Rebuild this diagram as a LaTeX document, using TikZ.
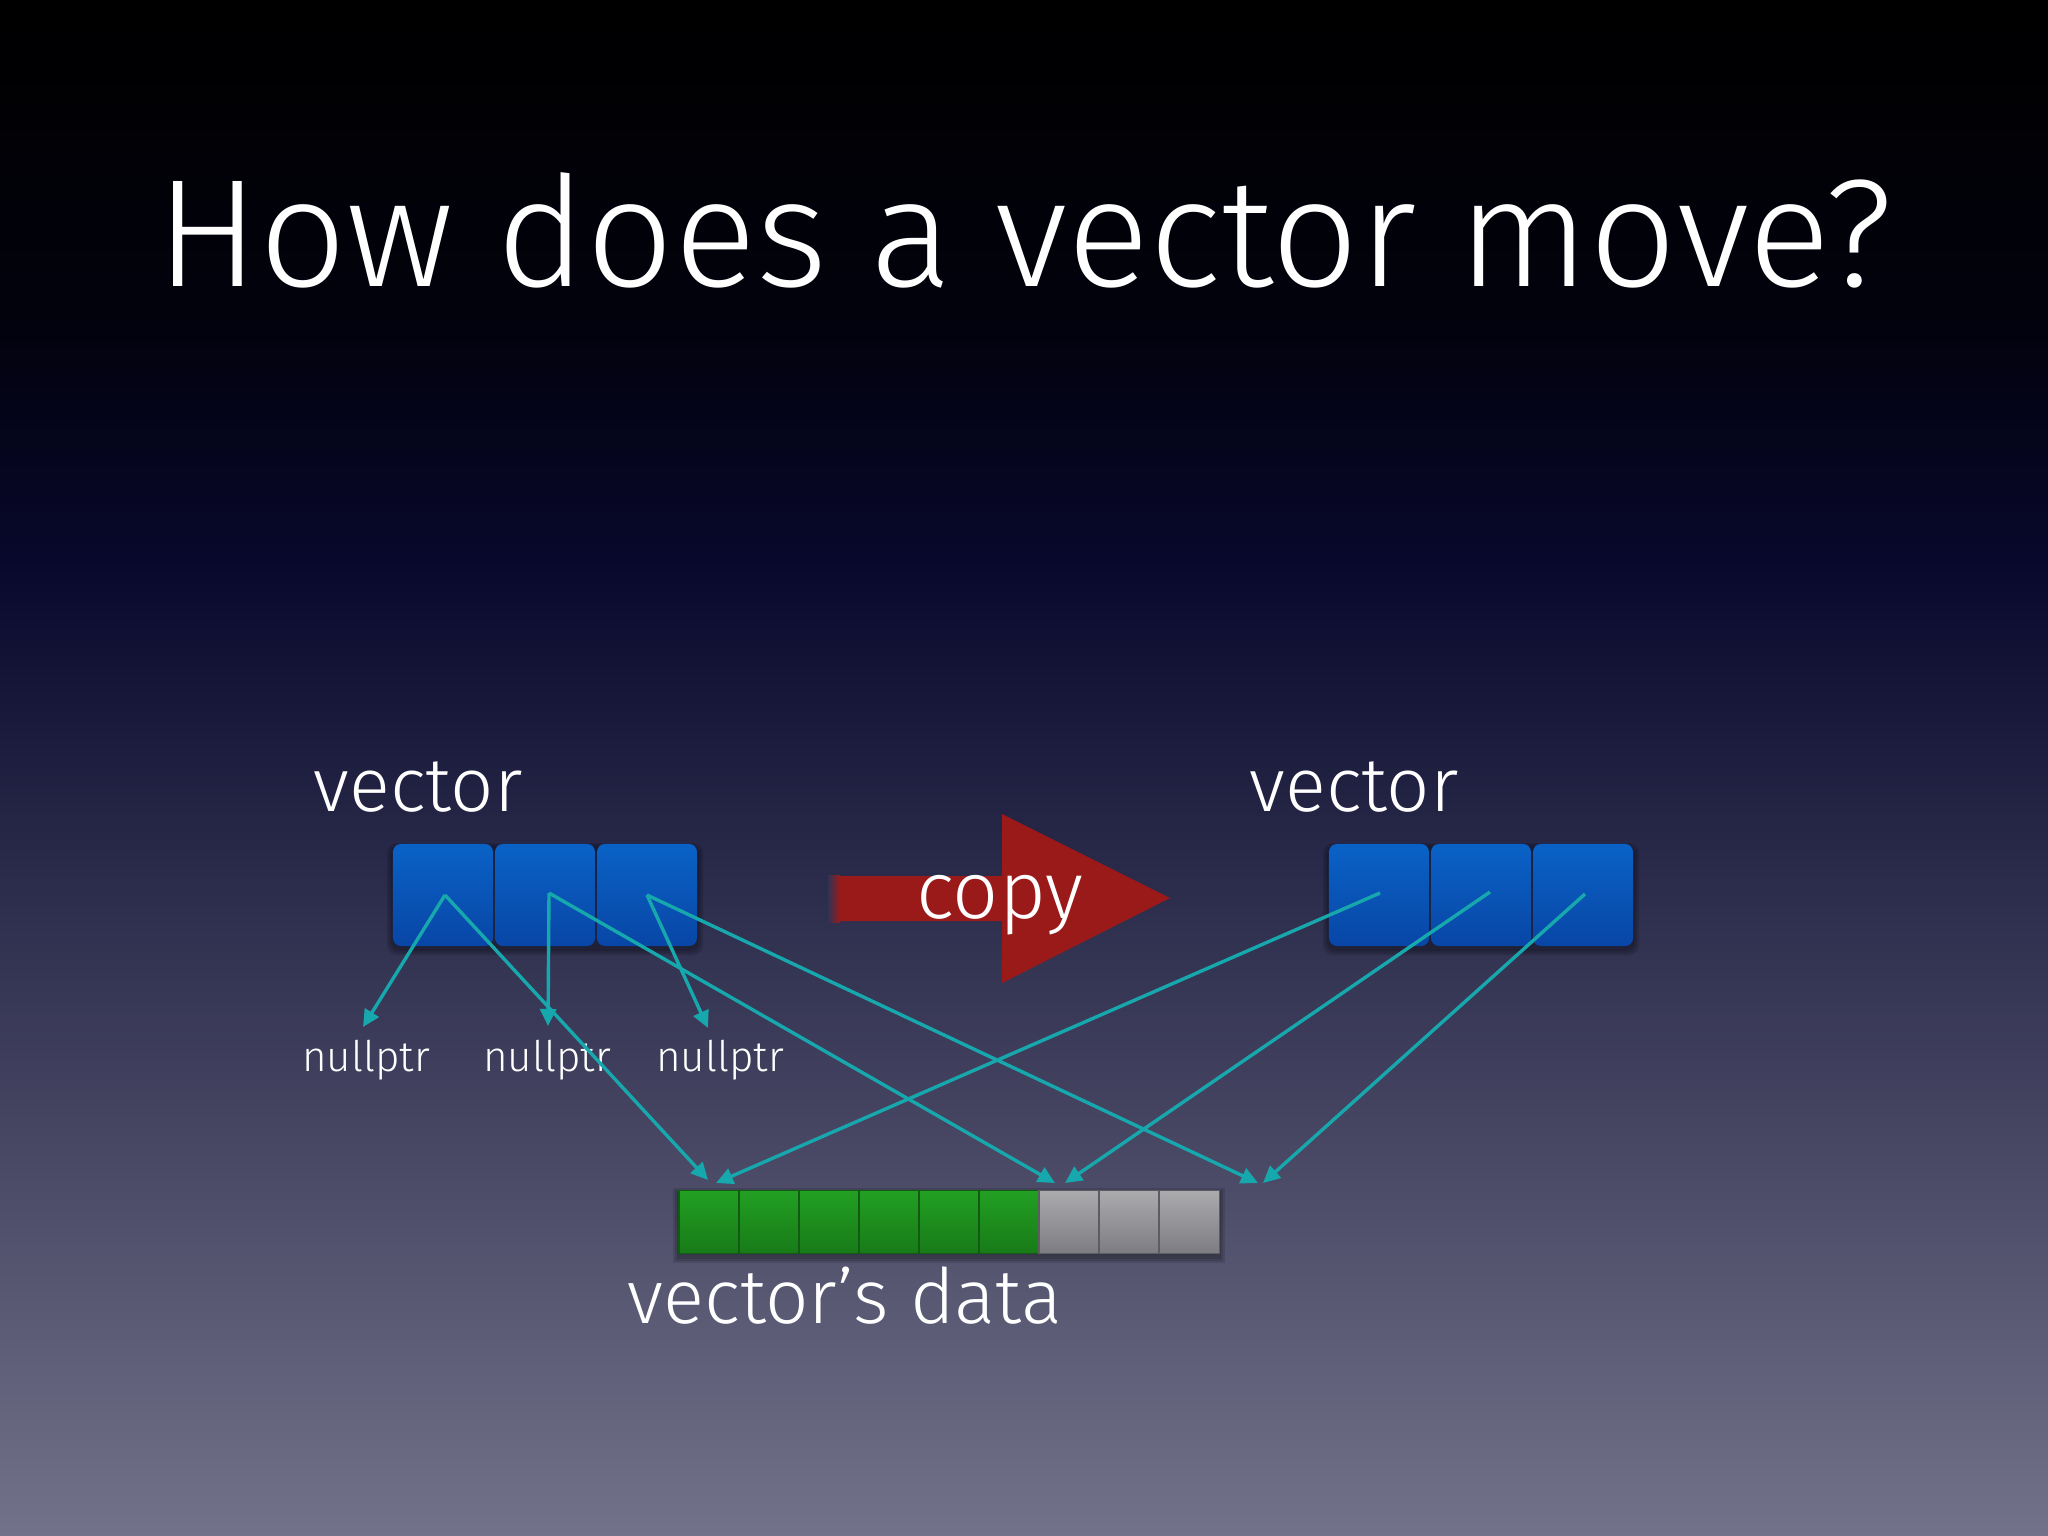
\documentclass[tikz,border=0pt]{standalone}
\usepackage{fontspec}
\IfFontExistsTF{Fira Sans Light}{\setmainfont{Fira Sans Light}}{\setmainfont{Liberation Sans}}
\usetikzlibrary{arrows.meta}
\definecolor{bgA}{HTML}{000000}
\definecolor{bgB}{HTML}{02020E}
\definecolor{bgC}{HTML}{08082C}
\definecolor{bgD}{HTML}{72728A}
\definecolor{ptr}{HTML}{17A8AD}
\definecolor{boxtop}{HTML}{0A62C6}
\definecolor{boxbot}{HTML}{0846A6}
\definecolor{grtop}{HTML}{22A022}
\definecolor{grbot}{HTML}{187A18}
\definecolor{gytop}{HTML}{ABABAE}
\definecolor{gybot}{HTML}{7C7C82}
\definecolor{copyred}{HTML}{9A1A1A}
\tikzset{
  vbox/.style={minimum width=1cm, minimum height=1.02cm, rounded corners=0.08cm,
    top color=boxtop, bottom color=boxbot, inner sep=0pt},
  gcell/.style={minimum width=0.6cm, minimum height=0.63cm, inner sep=0pt,
    top color=grtop, bottom color=grbot, draw=black!25!grbot, line width=0.3pt},
  ycell/.style={minimum width=0.6cm, minimum height=0.63cm, inner sep=0pt,
    top color=gytop, bottom color=gybot, draw=black!25!gybot, line width=0.3pt},
  ptrline/.style={draw=ptr, line width=0.034cm, -{Triangle[length=0.17cm,width=0.16cm]}},
  softshadow/.style={black, opacity=0.12},
  txt/.style={text=white, inner sep=0pt, anchor=base},
  bigtxt/.style={txt, font=\fontsize{43.6pt}{50pt}\selectfont},
  vectxt/.style={txt, font=\fontsize{21.6pt}{26pt}\selectfont},
  copytxt/.style={txt, font=\fontsize{23pt}{27pt}\selectfont},
  datatxt/.style={txt, font=\fontsize{21.7pt}{26pt}\selectfont},
  smalltxt/.style={txt, font=\fontsize{12pt}{15pt}\selectfont}
}
\begin{document}
\begin{tikzpicture}[x=0.01cm,y=-0.01cm]
\useasboundingbox (0,0) rectangle (2048,1536);
% background
\fill[top color=bgA,bottom color=bgB] (0,0) rectangle (2048,332);
\fill[top color=bgB,bottom color=bgC] (0,330) rectangle (2048,562);
\fill[top color=bgC,bottom color=bgD] (0,560) rectangle (2048,1536);

% title
\node[bigtxt] (title) at (1025,286) {How does a vector move?};

% labels
\node[vectxt] (lvec) at (418,811) {vector};
\node[vectxt] (rvec) at (1354,811) {vector};

% soft shadows
\foreach \d in {2,4,6} {
  \fill[softshadow,rounded corners=0.1cm] (393-\d,846-\d+3) rectangle (697+\d,946+\d+3);
  \fill[softshadow,rounded corners=0.1cm] (1329-\d,846-\d+3) rectangle (1633+\d,946+\d+3);
  \fill[softshadow] (679-\d,1191-\d+3) rectangle (1219+\d,1254+\d+3);
}

% left vector boxes
\node[vbox] (lb1) at (443,895) {};
\node[vbox] (lb2) at (545,895) {};
\node[vbox] (lb3) at (647,895) {};
% right vector boxes
\node[vbox] (rb1) at (1379,895) {};
\node[vbox] (rb2) at (1481,895) {};
\node[vbox] (rb3) at (1583,895) {};

% copy arrow
\fill[copyred] (830,876) -- (1002,876) -- (1002,814) -- (1170,898) -- (1002,983) -- (1002,921) -- (830,921) -- cycle;
\fill[left color=bgC!60!bgD, right color=copyred] (828,875) rectangle (840,922);
\node[copytxt] (copy) at (1000,918) {copy};

% data cells
\foreach \i in {1,...,6} {
  \node[gcell] (d\i) at ({709+60*(\i-1)},1222) {};
}
\foreach \i in {7,8,9} {
  \node[ycell] (d\i) at ({709+60*(\i-1)},1222) {};
}
\node[datatxt] (data) at (845,1323) {vector’s data};

% nullptr labels
\node[smalltxt] (n1) at (366,1071) {nullptr};
\node[smalltxt] (n2) at (547,1071) {nullptr};
\node[smalltxt] (n3) at (720,1071) {nullptr};

% pointer origins
\coordinate (o1) at (445,895);
\coordinate (o2) at (549,893);
\coordinate (o3) at (647,895);
\coordinate (p1) at (1380,893);
\coordinate (p2) at (1490,892);
\coordinate (p3) at (1585,894);
% tips
\coordinate (t1) at (363,1027);
\coordinate (t2) at (548,1026);
\coordinate (t3) at (708,1028);
\coordinate (a1) at (708,1180);
\coordinate (b1) at (716,1183);
\coordinate (a2) at (1055,1183);
\coordinate (b2) at (1065,1183);
\coordinate (a3) at (1258,1183);
\coordinate (b3) at (1263,1183);

% pointers
\draw[ptrline] (o1) -- (t1);
\draw[ptrline] (o2) -- (t2);
\draw[ptrline] (o3) -- (t3);
\draw[ptrline] (o1) -- (a1);
\draw[ptrline] (o2) -- (a2);
\draw[ptrline] (o3) -- (a3);
\draw[ptrline] (p1) -- (b1);
\draw[ptrline] (p2) -- (b2);
\draw[ptrline] (p3) -- (b3);
\end{tikzpicture}
\end{document}
